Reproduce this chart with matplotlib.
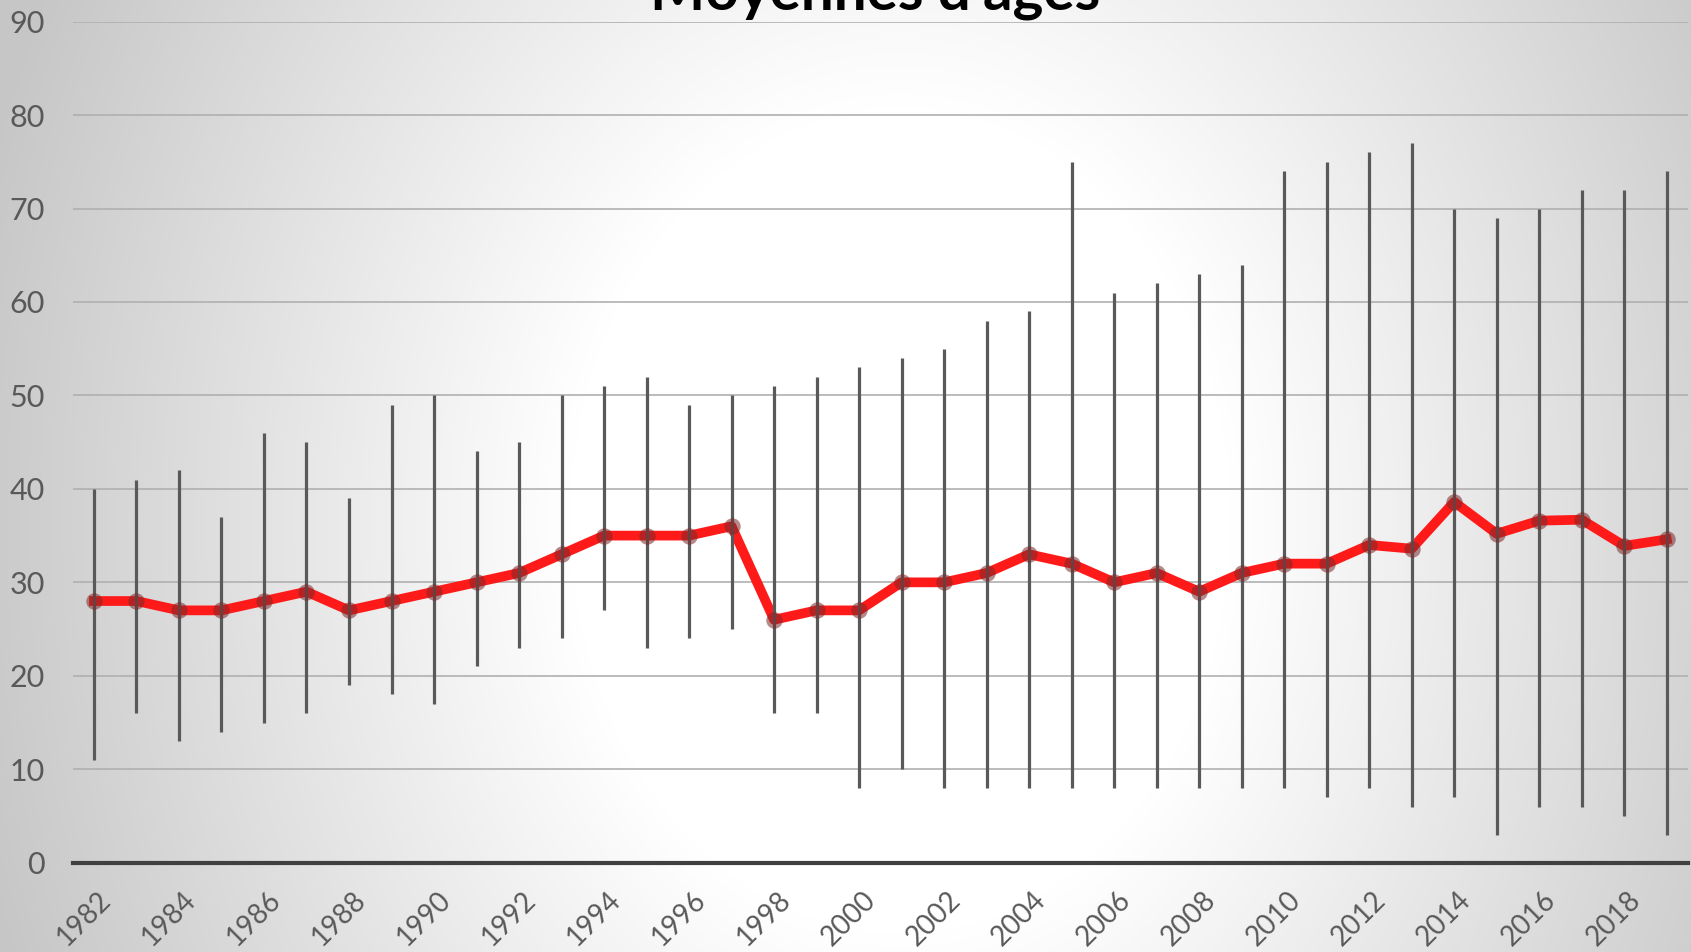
import numpy as np
import matplotlib
matplotlib.use("Agg")
import matplotlib.pyplot as plt
import matplotlib.transforms as mtrans

years = list(range(1982, 2020))
moyennes = [28, 28, 27, 27, 28, 29, 27, 28, 29, 30, 31, 33, 35, 35, 35, 36, 26, 27, 27,
            30, 30, 31, 33, 32, 30, 31, 29, 31, 32, 32, 34, 33.6, 38.6, 35.2, 36.6, 36.7, 33.9, 34.6]
age_max = [40, 41, 42, 37, 46, 45, 39, 49, 50, 44, 45, 50, 51, 52, 49, 50, 51, 52, 53,
           54, 55, 58, 59, 75, 61, 62, 63, 64, 74, 75, 76, 77, 70, 69, 70, 72, 72, 74]
age_min = [11, 16, 13, 14, 15, 16, 19, 18, 17, 21, 23, 24, 27, 23, 24, 25, 16, 16, 8,
           10, 8, 8, 8, 8, 8, 8, 8, 8, 8, 7, 8, 6, 7, 3, 6, 6, 5, 3]
titre = "Moyennes d'âges"

W, H = 1691, 952
fig = plt.figure(figsize=(W / 100, H / 100), dpi=100)
plt.rcParams['font.family'] = ['Lato', 'DejaVu Sans']

# radial grey background, white around the middle
bg = fig.add_axes([0, 0, 1, 1], zorder=-10)
yy, xx = np.mgrid[0:H, 0:W]
r = np.hypot(xx - 900, (yy - 520) * 0.8)
v = 1 - 0.22 * np.clip((r - 330) / 620, 0, 1)
bg.imshow(np.dstack([v, v, v]), aspect="auto", extent=[0, 1, 0, 1], interpolation="bilinear")
bg.axis("off")

ax = fig.add_axes([72.7 / W, 1 - 862.7 / H, (1688 - 72.7) / W, (862.7 - 21.6) / H])
ax.patch.set_alpha(0)
x = np.arange(len(years))

ax.plot(x, moyennes, color="#ff1a1a", lw=7, zorder=3, solid_joinstyle="round")
ax.vlines(x, age_min, age_max, color="#595959", lw=2.3, zorder=4)
ax.scatter(x, moyennes, s=140, color="#7a2a2a", alpha=0.55, lw=0, zorder=5)

ax.set_xlim(-0.5, len(years) - 0.5)
ax.set_ylim(0, 90)
ax.set_yticks(range(0, 91, 10))
for yv in range(10, 91, 10):
    ax.axhline(yv, color="#b0b0b0", lw=1.2, zorder=1)
ax.axhline(0, color="#404040", lw=3, zorder=2, clip_on=False)
for s in ax.spines.values():
    s.set_visible(False)

ax.tick_params(axis="y", length=0, pad=20, labelsize=22, labelcolor="#595959")
ax.set_xticks(x[::2])
ax.set_xticklabels([str(y) for y in years[::2]])
ax.tick_params(axis="x", length=0, pad=17, labelsize=20, labelcolor="#595959")
off = mtrans.ScaledTranslation(3 / 100, 0, fig.dpi_scale_trans)
for lab in ax.get_xticklabels():
    lab.set_rotation(45)
    lab.set_ha("right")
    lab.set_va("top")
    lab.set_rotation_mode("anchor")
    lab.set_transform(lab.get_transform() + off)

fig.text(875 / W, 1 - 9 / H, titre, ha="center", va="baseline", fontsize=42,
         fontweight="bold", color="black")

fig.savefig("out.png", dpi=100)
